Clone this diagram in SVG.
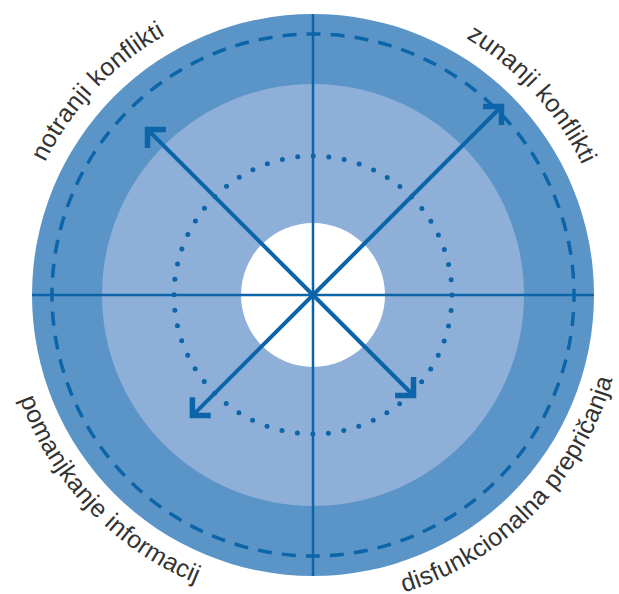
<svg xmlns="http://www.w3.org/2000/svg" xmlns:xlink="http://www.w3.org/1999/xlink" width="619" height="594" viewBox="0 0 619 594">
<style>
.ln{stroke:#0c65a9;fill:none}
.cross{stroke-width:2.5}
.arrow{stroke-width:4}
.lbl{font-family:"Liberation Sans",Arial,sans-serif;font-size:25px;fill:#333333;letter-spacing:0.3px}
</style>
<defs>
<marker id="ah" markerUnits="userSpaceOnUse" orient="auto" overflow="visible" markerWidth="1" markerHeight="1" refX="0" refY="0">
<path d="M-13,-13 L0,0 L-13,13" fill="none" stroke="#0c65a9" stroke-width="5.5" stroke-linejoin="miter" stroke-miterlimit="4"/>
</marker>
<path id="topArc" d="M14,295 A299,299 0 0 1 612,295"/>
<path id="botArc" d="M2,295 A311,311 0 0 0 624,295"/>
</defs>
<g id="rings">
<circle cx="313" cy="295" r="281" fill="#5b95c8"/>
<circle cx="313" cy="295" r="211" fill="#8eafd7"/>
<circle cx="313" cy="295" r="72" fill="#ffffff"/>
<circle class="ln" cx="313" cy="295" r="261" stroke-width="3.5" stroke-dasharray="14 10.117" stroke-dashoffset="7"/>
<circle class="ln" cx="313" cy="295" r="139" stroke-width="5" stroke-linecap="round" stroke-dasharray="0 15.596"/>
</g>
<g id="connectors">
<line class="ln cross" x1="32" y1="295" x2="594" y2="295"/>
<line class="ln cross" x1="313" y1="14" x2="313" y2="576"/>
<line class="ln arrow" x1="313" y1="295" x2="147.5" y2="129.5" marker-end="url(#ah)"/>
<line class="ln arrow" x1="313" y1="295" x2="501.5" y2="106.5" marker-end="url(#ah)"/>
<line class="ln arrow" x1="313" y1="295" x2="413.5" y2="395.5" marker-end="url(#ah)"/>
<line class="ln arrow" x1="313" y1="295" x2="192.4" y2="415.6" marker-end="url(#ah)"/>
</g>
<g id="label-notranji"><text class="lbl"><textPath xlink:href="#topArc" href="#topArc" startOffset="24.1%" text-anchor="middle">notranji konflikti</textPath></text></g>
<g id="label-zunanji"><text class="lbl"><textPath xlink:href="#topArc" href="#topArc" startOffset="76.4%" text-anchor="middle">zunanji konflikti</textPath></text></g>
<g id="label-pomanjkanje"><text class="lbl"><textPath xlink:href="#botArc" href="#botArc" startOffset="24.3%" text-anchor="middle">pomanjkanje informacij</textPath></text></g>
<g id="label-disfunkcionalna"><text class="lbl"><textPath xlink:href="#botArc" href="#botArc" startOffset="75.4%" text-anchor="middle">disfunkcionalna prepričanja</textPath></text></g>
</svg>
